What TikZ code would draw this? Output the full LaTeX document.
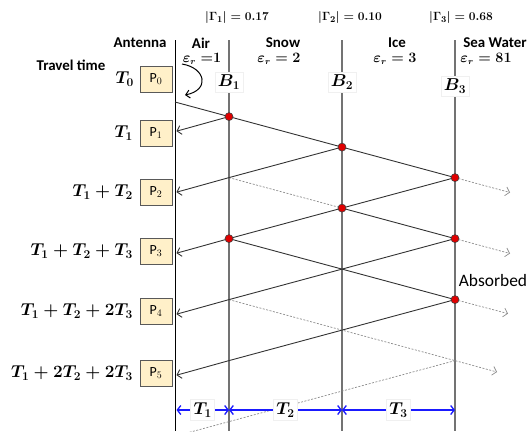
\documentclass[tikz,border=0pt]{standalone}
\usepackage{fontspec}
\usepackage{amsmath}
\newfontfamily\calib{Carlito}
\usetikzlibrary{arrows.meta}
\definecolor{pfill}{HTML}{FFF0C9}
\definecolor{dotred}{HTML}{E00000}
\definecolor{dimblue}{HTML}{1A1AFF}
\begin{document}
\begin{tikzpicture}[x=1bp,y=-1bp,
  lbl/.style={font=\calib\bfseries\fontsize{15}{17}\selectfont, inner sep=0},
  abs/.style={font=\calib\fontsize{17.5}{20}\selectfont, inner sep=0},
  eps/.style={font=\fontsize{13.5}{15}\selectfont\boldmath, inner sep=0},
  gam/.style={font=\fontsize{13}{15}\selectfont\boldmath, inner sep=0},
  tlab/.style={font=\fontsize{18}{21}\selectfont\boldmath, anchor=east, inner sep=0},
  blab/.style={font=\fontsize{18}{21}\selectfont\boldmath, fill=white, draw=black!6, inner sep=3bp},
  pbox/.style={draw=black!65, line width=0.9bp, fill=pfill, minimum width=32bp, minimum height=26bp, inner sep=0, font=\calib\fontsize{14}{16}\selectfont},
  antline/.style={draw=black, line width=0.9bp},
  bline/.style={draw=black!55, line width=1.4bp},
  wave/.style={draw=black!80, line width=0.9bp},
  back/.style={wave, -{Straight Barb[length=4bp,width=9bp]}},
  ghost/.style={draw=black!45, line width=0.7bp, dash pattern=on 2bp off 1.5bp},
  ghostar/.style={ghost, -{Straight Barb[length=4bp,width=9bp]}},
  reddot/.style={circle, fill=dotred, draw=black!75, line width=0.6bp, inner sep=0, minimum size=8bp},
  dim/.style={draw=dimblue, line width=1.3bp, {Straight Barb[length=3.5bp,width=9bp]}-{Straight Barb[length=3.5bp,width=9bp]}},
  dlab/.style={font=\fontsize{18}{21}\selectfont\boldmath, fill=white, draw=black!6, inner sep=3bp},
]
\useasboundingbox (0,0) rectangle (531,431);

% vertical boundary lines
\coordinate (antTop) at (175,40);  \coordinate (antBot) at (175,431);
\coordinate (b1Top) at (229,40);   \coordinate (b1Bot) at (229,431);
\coordinate (b2Top) at (342,40);   \coordinate (b2Bot) at (342,431);
\coordinate (b3Top) at (455,40);   \coordinate (b3Bot) at (455,431);
\draw[antline] (antTop) -- (antBot);
\draw[bline] (b1Top) -- (b1Bot);
\draw[bline] (b2Top) -- (b2Bot);
\draw[bline] (b3Top) -- (b3Bot);

% header texts
\node[gam] (g1) at (237,18) {$|\Gamma_1| = 0.17$};
\node[gam] (g2) at (350,18) {$|\Gamma_2| = 0.10$};
\node[gam] (g3) at (461,18) {$|\Gamma_3| = 0.68$};
\node[lbl] (antenna) at (140,43) {Antenna};
\node[lbl] (travel) at (71,65) {Travel time};
\node[lbl] (air) at (201,43) {Air};
\node[eps] (eair) at (202,58.5) {$\varepsilon_r\;{=}1$};
\node[lbl] (snow) at (283,43) {Snow};
\node[eps] (esnow) at (279,58.5) {$\varepsilon_r = 2$};
\node[lbl] (ice) at (397,43) {Ice};
\node[eps] (eice) at (395,58.5) {$\varepsilon_r = 3$};
\node[lbl] (sea) at (495,43) {Sea Water};
\node[eps] (esea) at (486,58.5) {$\varepsilon_r = 81$};
\node[abs] (absorbed) at (493,281) {Absorbed};

% wave coordinates
\coordinate (s0) at (175,102);
\coordinate (b1a) at (229,116.6);
\coordinate (b2a) at (342,147.1);
\coordinate (b3a) at (455,177.6);
\coordinate (b1b) at (229,177.6);
\coordinate (b2b) at (342,208.1);
\coordinate (b1c) at (229,238.6);
\coordinate (b3b) at (455,238.6);
\coordinate (b2c) at (342,269.1);
\coordinate (b1d) at (229,299.6);
\coordinate (b3c) at (455,299.6);
\coordinate (b2d) at (342,330.1);
\coordinate (b1e) at (229,360.6);
\coordinate (b3d) at (455,360.6);
\coordinate (b2e) at (342,391.1);
\coordinate (b1f) at (229,421.6);
\coordinate (gend) at (175,436.2);
\coordinate (a1) at (176.5,131.2);
\coordinate (a2) at (176.5,192.2);
\coordinate (a3) at (176.5,253.2);
\coordinate (a4) at (176.5,314.2);
\coordinate (a5) at (176.5,375.2);
\coordinate (t1) at (510,192.5);
\coordinate (t2) at (510,253.5);
\coordinate (t3) at (508,313.6);
\coordinate (t4) at (497,372);

% dotted (weak) paths
\draw[ghost] (b1b) -- (b2b);
\draw[ghostar] (b1d) -- (b3d) -- (t4);
\draw[ghost] (b3d) -- (b2e) -- (b1f) -- (gend);
\draw[ghostar] (b3a) -- (t1);
\draw[ghostar] (b3b) -- (t2);
\draw[ghostar] (b3c) -- (t3);

% solid paths
\draw[wave] (s0) -- (b1a) -- (b2a) -- (b3a);
\draw[back] (b1a) -- (a1);
\draw[back] (b2a) -- (b1b) -- (a2);
\draw[back] (b3a) -- (b2b) -- (b1c) -- (a3);
\draw[wave] (b2b) -- (b3b);
\draw[back] (b3b) -- (b2c) -- (b1d) -- (a4);
\draw[wave] (b1c) -- (b2c) -- (b3c);
\draw[back] (b3c) -- (b2d) -- (b1e) -- (a5);

% emission curl
\coordinate (c0) at (182,64);
\coordinate (c1) at (185,95);
\draw[line width=1bp, -{Straight Barb[length=4bp,width=8bp]}] (c0) .. controls (206,68) and (210,90) .. (c1);

% boundary labels
\node[blab] (B1) at (229,82) {$B_1$};
\node[blab] (B2) at (342,82) {$B_2$};
\node[blab] (B3) at (455,86) {$B_3$};

% P boxes and travel-time labels
\node[pbox] (p0) at (156,79) {P$_0$};
\node[pbox] (p1) at (156,133) {P$_1$};
\node[pbox] (p2) at (156,192) {P$_2$};
\node[pbox] (p3) at (156,251) {P$_3$};
\node[pbox] (p4) at (156,311) {P$_4$};
\node[pbox] (p5) at (156,373) {P$_5$};
\node[tlab] (l0) at (134,79) {$T_0$};
\node[tlab] (l1) at (133,133) {$T_1$};
\node[tlab] (l2) at (133,192) {$T_1 + T_2$};
\node[tlab] (l3) at (133,251) {$T_1 + T_2 + T_3$};
\node[tlab] (l4) at (133,311) {$T_1 + T_2 + 2T_3$};
\node[tlab] (l5) at (133,373) {$T_1 + 2T_2 + 2T_3$};

% reflection dots
\node[reddot] (r1) at (b1a) {};
\node[reddot] (r2) at (b2a) {};
\node[reddot] (r3) at (b3a) {};
\node[reddot] (r4) at (b2b) {};
\node[reddot] (r5) at (b1c) {};
\node[reddot] (r6) at (b3b) {};
\node[reddot] (r7) at (b3c) {};

% travel-time dimensions
\coordinate (d0) at (176.5,410);
\coordinate (d1) at (229,410);
\coordinate (d2) at (342,410);
\coordinate (d3) at (455,410);
\draw[dim] (d0) -- node[dlab] (dt1) {$T_1$} (d1);
\draw[dim] (d1) -- node[dlab] (dt2) {$T_2$} (d2);
\draw[dim] (d2) -- node[dlab] (dt3) {$T_3$} (d3);
\end{tikzpicture}
\end{document}
